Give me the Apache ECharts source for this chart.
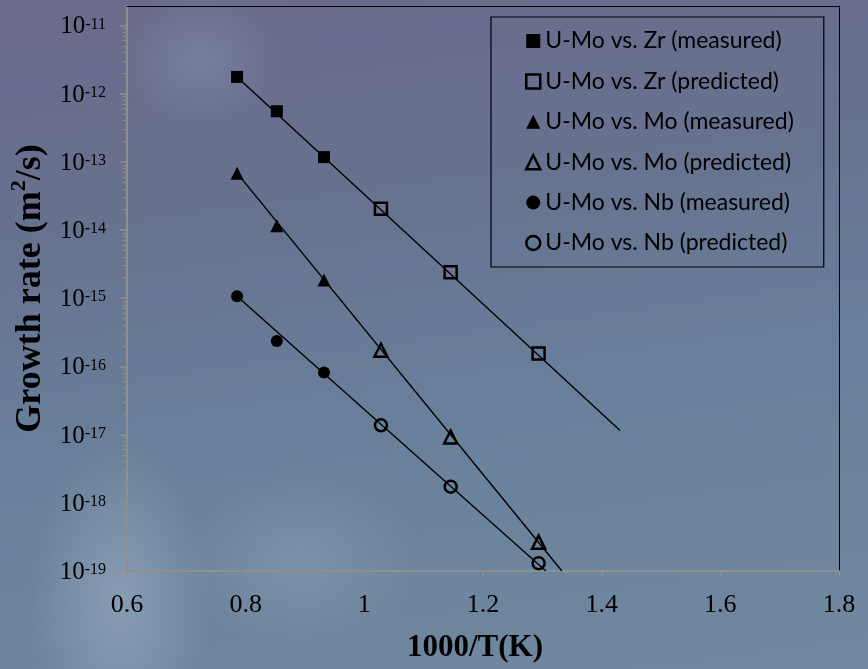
<!DOCTYPE html>
<html>
<head>
<meta charset="utf-8">
<script src="https://cdn.jsdelivr.net/npm/echarts@6/dist/echarts.min.js"></script>
<style>
html,body{margin:0;padding:0;}
body{
  width:868px;height:669px;overflow:hidden;
  background:
    radial-gradient(ellipse 90px 160px at 120px 600px, rgba(190,205,220,0.35), rgba(190,205,220,0) 100%),
    radial-gradient(ellipse 80px 70px at 200px 60px, rgba(150,180,200,0.25), rgba(150,180,200,0) 100%),
    radial-gradient(ellipse 120px 90px at 300px 560px, rgba(170,190,210,0.25), rgba(170,190,210,0) 100%),
    linear-gradient(172deg, #6c6a8c 0%, #67728f 30%, #69809a 60%, #7088a0 100%);
}
#chart{width:868px;height:669px;}
</style>
</head>
<body>
<div id="chart"></div>
<script>
// ---- data ----
const xMeasured  = [0.7855, 0.8525, 0.932];
const xPredicted = [1.028, 1.1455, 1.2937];

const zrMeasured  = [1.75e-12, 5.5e-13, 1.17e-13];
const zrPredicted = [2.05e-14, 2.4e-15, 1.55e-16];
const moMeasured  = [6.8e-14, 1.15e-14, 1.85e-15];
const moPredicted = [1.72e-16, 9.2e-18, 2.65e-19];
const nbMeasured  = [1.07e-15, 2.35e-16, 8.1e-17];
const nbPredicted = [1.37e-17, 1.72e-18, 1.3e-19];

// fitted trend lines (end points)
const zrTrendX = [0.7855, 1.431];
const zrTrendY = [1.75e-12, 1.15e-17];
const moTrendX = [0.7855, 1.333];
const moTrendY = [6.8e-14, 1.0e-19];
const nbTrendX = [0.7855, 1.306];
const nbTrendY = [1.07e-15, 1.0e-19];

const seriesNames = [
  'U-Mo vs. Zr (measured)', 'U-Mo vs. Zr (predicted)',
  'U-Mo vs. Mo (measured)', 'U-Mo vs. Mo (predicted)',
  'U-Mo vs. Nb (measured)', 'U-Mo vs. Nb (predicted)'
];

// axis ticks
const xTicks = [0.6, 0.8, 1.0, 1.2, 1.4, 1.6, 1.8];
const yDecades = [-19, -18, -17, -16, -15, -14, -13, -12, -11];
const minorMultipliers = [2, 3, 4, 5, 6, 7, 8, 9];

const yMajor = yDecades.map(e => Math.pow(10, e));
const yMinor = [];
yDecades.slice(0, -1).forEach(e => minorMultipliers.forEach(m => yMinor.push(m * Math.pow(10, e))));

const Y_MIN = 1e-19, Y_MAX = 1.92e-11;

function pairs(xs, ys) { return xs.map((x, i) => [x, ys[i]]); }

const chart = echarts.init(document.getElementById('chart'), null, {renderer: 'canvas'});

const serif = 'Liberation Serif';
const black = '#000';
const axisGrey = '#8f8f8f';

function filled(name, data, symbol, size) {
  return {
    name, type: 'scatter', data, symbol, symbolSize: size,
    itemStyle: {color: black, opacity: 1}, z: 5, silent: true
  };
}
function open(name, data, symbol, size) {
  return {
    name, type: 'scatter', data, symbol, symbolSize: size,
    itemStyle: {color: 'rgba(0,0,0,0)', borderColor: black, borderWidth: 2.5, opacity: 1}, z: 5, silent: true
  };
}
function trend(data) {
  return {
    type: 'line', data, showSymbol: false, symbol: 'none', clip: true,
    lineStyle: {color: black, width: 1.4}, z: 4, silent: true
  };
}

const option = {
  animation: false,
  backgroundColor: 'transparent',
  grid: {left: 127, right: 29, top: 6, bottom: 98, containLabel: false},
  xAxis: [{
    type: 'value', min: 0.6, max: 1.8, interval: 0.2, position: 'bottom',
    axisLine: {show: true, lineStyle: {color: axisGrey, width: 2}},
    axisTick: {show: true, length: 5, inside: false, lineStyle: {color: axisGrey, width: 1.5}},
    splitLine: {show: false},
    axisLabel: {
      margin: 21, fontFamily: serif, fontSize: 26, color: black,
      formatter: v => {
        const r = Math.round(v * 10) / 10;
        return (Math.abs(r - 1) < 1e-9) ? '1' : r.toFixed(1);
      }
    },
    name: '1000/T(K)', nameLocation: 'middle', nameGap: 61,
    nameTextStyle: {fontFamily: serif, fontSize: 31, fontWeight: 'bold', color: black, padding: [0, 16, 0, 0]}
  }, {
    type: 'value', min: 0.6, max: 1.8, position: 'top',
    axisLine: {show: true, onZero: false, lineStyle: {color: black, width: 1}},
    axisTick: {show: false}, axisLabel: {show: false}, splitLine: {show: false}
  }],
  yAxis: [{
    type: 'log', logBase: 10, min: Y_MIN, max: Y_MAX, position: 'left',
    axisLine: {show: true, lineStyle: {color: axisGrey, width: 2}},
    axisTick: {show: true, length: 7, customValues: yMajor, lineStyle: {color: axisGrey, width: 1.5}},
    splitLine: {show: false},
    axisLabel: {
      customValues: yMajor, margin: 21, color: black,
      formatter: v => '{b|10}{s|' + Math.round(Math.log10(v)) + '}',
      rich: {
        b: {fontFamily: serif, fontSize: 25, color: black, lineHeight: 28, verticalAlign: 'bottom', padding: [5, 0, 0, 0]},
        s: {fontFamily: serif, fontSize: 16, color: black, lineHeight: 28, verticalAlign: 'top', padding: [5, 0, 0, 0]}
      }
    },
    name: '{a|Growth rate (m}{s|2}{a|/s)}', nameLocation: 'middle', nameGap: 68, nameRotate: 90,
    nameTextStyle: {
      rich: {
        a: {fontFamily: serif, fontSize: 36, fontWeight: 'bold', color: black, lineHeight: 40, verticalAlign: 'bottom'},
        s: {fontFamily: serif, fontSize: 22, fontWeight: 'bold', color: black, lineHeight: 40, verticalAlign: 'top'}
      }
    }
  }, {
    type: 'log', logBase: 10, min: Y_MIN, max: Y_MAX, position: 'left',
    axisLine: {show: false},
    axisTick: {show: true, length: 4, customValues: yMinor, lineStyle: {color: axisGrey, width: 1.3}},
    axisLabel: {show: false}, splitLine: {show: false}
  }, {
    type: 'log', logBase: 10, min: Y_MIN, max: Y_MAX, position: 'right',
    axisLine: {show: true, onZero: false, lineStyle: {color: black, width: 1}},
    axisTick: {show: false}, axisLabel: {show: false}, splitLine: {show: false}
  }],
  legend: {
    orient: 'vertical', left: 491, top: 17,
    padding: [12, 30, 12, 34],
    itemGap: 16.4, itemWidth: 14, itemHeight: 14,
    borderColor: black, borderWidth: 1.2, backgroundColor: 'transparent',
    textStyle: {fontFamily: 'Lato', fontSize: 23, color: black, lineHeight: 24},
    selectedMode: false,
    data: [
      {name: seriesNames[0], icon: 'rect', itemStyle: {color: black, borderWidth: 0}},
      {name: seriesNames[1], icon: 'rect', itemStyle: {color: 'rgba(0,0,0,0)', borderColor: black, borderWidth: 2.5}},
      {name: seriesNames[2], icon: 'triangle', itemStyle: {color: black, borderWidth: 0}},
      {name: seriesNames[3], icon: 'triangle', itemStyle: {color: 'rgba(0,0,0,0)', borderColor: black, borderWidth: 2.5}},
      {name: seriesNames[4], icon: 'circle', itemStyle: {color: black, borderWidth: 0}},
      {name: seriesNames[5], icon: 'circle', itemStyle: {color: 'rgba(0,0,0,0)', borderColor: black, borderWidth: 2.5}}
    ]
  },
  series: [
    trend(pairs(zrTrendX, zrTrendY)),
    trend(pairs(moTrendX, moTrendY)),
    trend(pairs(nbTrendX, nbTrendY)),
    filled(seriesNames[0], pairs(xMeasured, zrMeasured), 'rect', 12),
    open(seriesNames[1], pairs(xPredicted, zrPredicted), 'rect', 12),
    filled(seriesNames[2], pairs(xMeasured, moMeasured), 'triangle', 13),
    open(seriesNames[3], pairs(xPredicted, moPredicted), 'triangle', 13),
    filled(seriesNames[4], pairs(xMeasured, nbMeasured), 'circle', 12),
    open(seriesNames[5], pairs(xPredicted, nbPredicted), 'circle', 12)
  ]
};

chart.setOption(option);
</script>
</body>
</html>
